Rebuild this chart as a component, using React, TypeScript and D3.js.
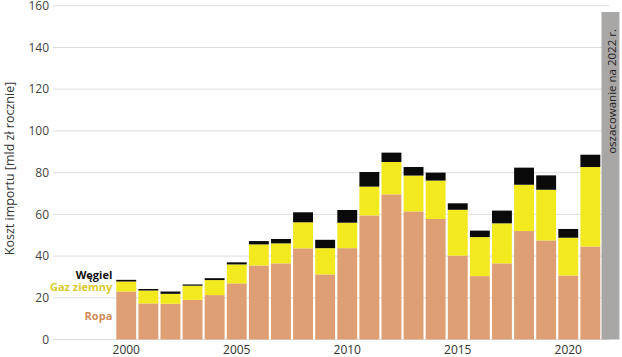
import React from "react";
import * as d3 from "d3";

const years = [2000, 2001, 2002, 2003, 2004, 2005, 2006, 2007, 2008, 2009, 2010, 2011, 2012, 2013, 2014, 2015, 2016, 2017, 2018, 2019, 2020, 2021];
const ropa = [23.0, 17.3, 17.1, 19.0, 21.3, 26.9, 35.5, 36.5, 43.7, 31.2, 43.8, 59.5, 69.6, 61.4, 57.8, 40.2, 30.4, 36.5, 52.0, 47.5, 30.7, 44.6];
const gaz = [4.8, 6.2, 4.8, 6.8, 7.2, 9.1, 10.1, 9.6, 12.5, 12.6, 12.2, 13.8, 15.5, 17.2, 18.4, 22.0, 18.7, 19.2, 22.2, 24.3, 18.1, 38.1];
const wegiel = [0.8, 0.7, 1.1, 0.6, 0.9, 1.0, 1.6, 2.1, 4.8, 4.0, 6.1, 7.0, 4.5, 4.1, 3.8, 3.1, 3.1, 6.1, 8.2, 6.9, 4.2, 5.9];
const yTicks = [0, 20, 40, 60, 80, 100, 120, 140, 160];
const xTickYears = [2000, 2005, 2010, 2015, 2020];
const estimateYear = 2022;
const estimateTop = 157;
const estimateLabel = "oszacowanie na 2022 r.";
const yAxisLabel = "Koszt importu [mld zł rocznie]";
const seriesKeys = ["ropa", "gaz", "wegiel"];
const seriesNames = ["Ropa", "Gaz ziemny", "Węgiel"];
const seriesColors = ["#DE9F74", "#F2E91F", "#0A0A0A"];
const labelColors = ["#CF8A5A", "#D9CB2E", "#111111"];

const W = 622;
const H = 357;
const FONT = "'Open Sans', 'Noto Sans', sans-serif";

export default function App() {
  const allYears = [...years, estimateYear];
  const x = d3
    .scaleBand<number>()
    .domain(allYears)
    .range([115.2, 623.5])
    .paddingInner(0.1)
    .paddingOuter(0.05);
  const y = d3.scaleLinear().domain([0, 160]).range([339.5, 5.8]);

  const rows = years.map((yr, i) => ({ year: yr, ropa: ropa[i], gaz: gaz[i], wegiel: wegiel[i] }));
  const stacked = d3.stack<any>().keys(seriesKeys)(rows);

  const gridX0 = 53;
  const gridX1 = 609;
  const bw = x.bandwidth();

  const first = stacked.map((s) => s[0]);
  const labelX = (x(years[0]) ?? 0) - 4;

  return (
    <svg
      width={W}
      height={H}
      style={{ position: "absolute", left: 0, top: 0, display: "block", background: "#fff" }}
      fontFamily={FONT}
    >
      {yTicks.map((t) => (
        <g key={t}>
          <line x1={gridX0} x2={gridX1} y1={y(t)} y2={y(t)} stroke="#DCDCDC" strokeWidth={1} />
          <text x={49} y={y(t)} dy="0.35em" textAnchor="end" fontSize={12} fill="#444">
            {t}
          </text>
        </g>
      ))}
      {stacked.map((s, si) => (
        <g key={si} fill={seriesColors[si]}>
          {s.map((d, i) => (
            <rect key={i} x={x(years[i])} width={bw} y={y(d[1])} height={y(d[0]) - y(d[1])} />
          ))}
        </g>
      ))}
      <rect
        x={(x(estimateYear) ?? 0) - 1}
        width={bw - 2}
        y={y(estimateTop)}
        height={y(0) - y(estimateTop)}
        fill="#A9A7A6"
      />
      <text
        transform={`translate(${(x(estimateYear) ?? 0) + bw / 2 + 3.5},${y(estimateTop) + 17}) rotate(-90)`}
        textAnchor="end"
        fontSize={11.5}
        fill="#222"
      >
        {estimateLabel}
      </text>
      {xTickYears.map((yr) => (
        <text key={yr} x={(x(yr) ?? 0) + bw / 2} y={354} textAnchor="middle" fontSize={12} fill="#333">
          {yr}
        </text>
      ))}
      <text
        transform={`translate(14,${y(82)}) rotate(-90)`}
        textAnchor="middle"
        fontSize={12.5}
        fill="#333"
      >
        {yAxisLabel}
      </text>
      <text x={labelX} y={y(first[2][1]) - 1} textAnchor="end" fontSize={11} fontWeight="bold" fill={labelColors[2]}>
        {seriesNames[2]}
      </text>
      <text x={labelX} y={y(first[1][1]) + 9} textAnchor="end" fontSize={11} fontWeight="bold" fill={labelColors[1]}>
        {seriesNames[1]}
      </text>
      <text x={labelX} y={y(first[0][1] / 2) + 4} textAnchor="end" fontSize={11} fontWeight="bold" fill={labelColors[0]}>
        {seriesNames[0]}
      </text>
    </svg>
  );
}
